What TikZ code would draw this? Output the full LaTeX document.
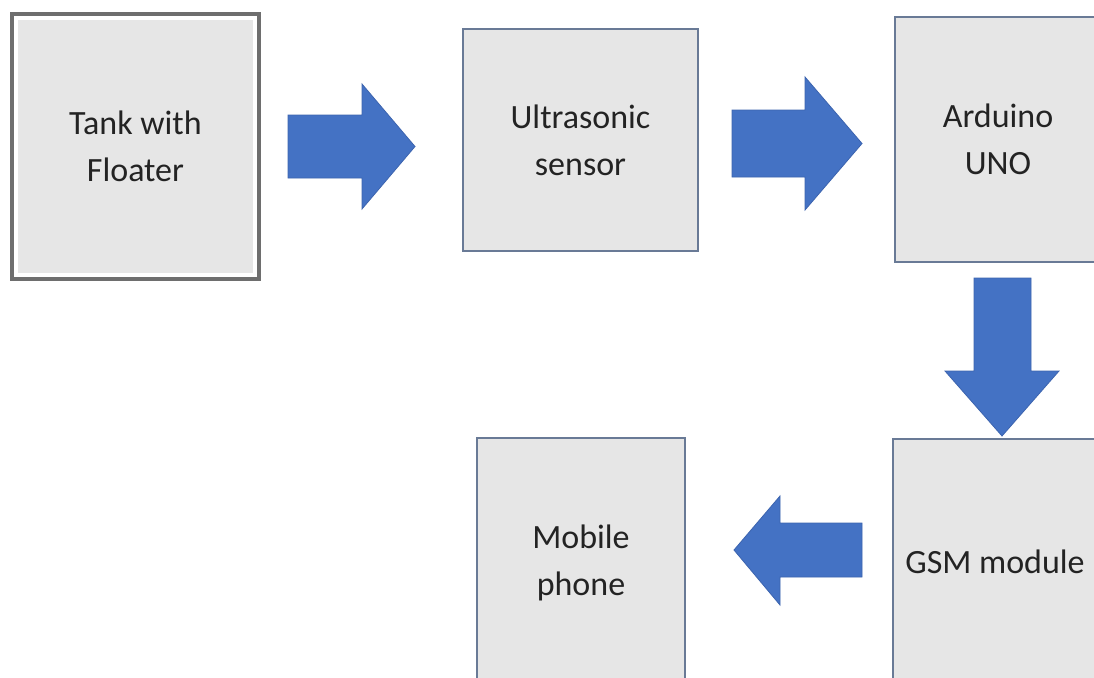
\documentclass[tikz,border=0pt]{standalone}
\usepackage{fontspec}
\setmainfont{Carlito}
\usetikzlibrary{calc}
\definecolor{boxfill}{RGB}{230,230,230}
\definecolor{boxline}{RGB}{105,122,150}
\definecolor{tankline}{RGB}{110,110,110}
\definecolor{arrowblue}{RGB}{68,114,196}
\definecolor{arrowedge}{RGB}{60,100,175}
\definecolor{txt}{RGB}{35,35,35}
\begin{document}
\begin{tikzpicture}[x=1pt,y=-1pt,
  blk/.style={draw=boxline, line width=1.5pt, fill=boxfill, align=center, text=txt,
    font=\fontsize{34}{47}\selectfont, inner sep=0pt, outer sep=0pt},
  blockarrow/.style={fill=arrowblue, draw=arrowedge, line width=0.8pt, line join=miter}]
\clip (0,0) rectangle (1094,677);
\fill[white] (0,0) rectangle (1094,677);
% boxes
\node[blk, draw=white, line width=4pt, minimum width=239pt, minimum height=257pt] (tank) at (135.5,146.5) {Tank with\\Floater};
\draw[tankline, line width=4pt] ($(tank.north west)+(-4,-4)$) rectangle ($(tank.south east)+(4,4)$);
\node[blk, minimum width=235pt, minimum height=222pt] (us) at (580.5,140) {Ultrasonic\\sensor};
\node[blk, minimum width=206pt, minimum height=245pt] (ard) at (998,139.5) {Arduino\\UNO};
\node[blk, minimum width=204pt, minimum height=246pt] (gsm) at (995,562) {GSM module};
\node[blk, minimum width=208pt, minimum height=250pt] (mob) at (581,563) {Mobile\\phone};
% block arrows
\filldraw[blockarrow] (288,115) -- (362,115) -- (362,84) -- (415,146.5) -- (362,209) -- (362,178) -- (288,178) -- cycle;
\filldraw[blockarrow] (732,110) -- (805,110) -- (805,77) -- (862,143.5) -- (805,210) -- (805,177) -- (732,177) -- cycle;
\filldraw[blockarrow] (974,278) -- (1031,278) -- (1031,371) -- (1059,371) -- (1002,436) -- (945,371) -- (974,371) -- cycle;
\filldraw[blockarrow] (862,523) -- (780,523) -- (780,496) -- (734,550) -- (780,605) -- (780,577) -- (862,577) -- cycle;
\end{tikzpicture}
\end{document}
